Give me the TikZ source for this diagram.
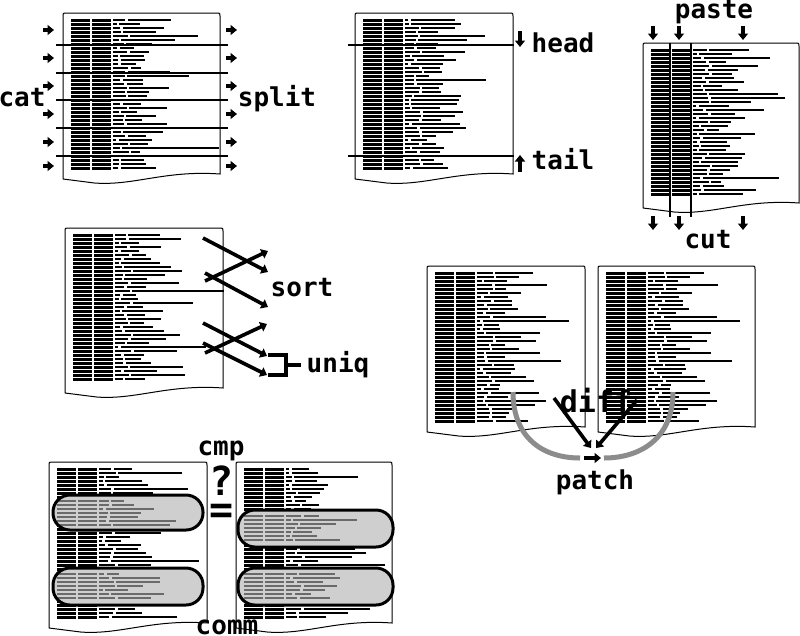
\documentclass[tikz,border=0pt]{standalone}
\usepackage{fontspec}
\setmonofont{DejaVu Sans Mono}
\usetikzlibrary{arrows.meta}
\definecolor{arcgray}{HTML}{8C8C8C}
\definecolor{ovalgray}{HTML}{CFCFCF}
\definecolor{ovaltext}{HTML}{6A6A6A}
\tikzset{
 lbl/.style={font=\ttfamily\bfseries\fontsize{26}{28}\selectfont, inner sep=0pt, anchor=base},
 biglbl/.style={font=\ttfamily\bfseries\fontsize{40}{42}\selectfont, inner sep=0pt, anchor=base},
 pageframe/.style={draw=black, line width=1pt, fill=white},
 cutline/.style={line width=1.4pt},
 blk/.style={line width=3.6pt, -{Triangle[length=6.5pt,width=10pt]}},
 grayarc/.style={line width=5pt, draw=arcgray},
 ovalst/.style={line width=3pt, draw=black, rounded corners=17pt},
}
% page outline: L, T, W, B
\newcommand\pageoutline[4]{%
 \draw[pageframe] (#1,#4) -- (#1,#2+3) .. controls (#1,#2) .. (#1+3,#2)
   -- (#1+#3-3,#2) .. controls (#1+#3,#2) .. (#1+#3,#2+3)
   -- (#1+#3,#4-5) .. controls (#1+0.65*#3,#4-9) and (#1+0.45*#3,#4+7) .. (#1+0.2*#3,#4+4)
   .. controls (#1+0.1*#3,#4+2) .. (#1,#4);
}
% rows of tiny listing: L, firstY, nrows, seed, colour, barheight
\newcommand\listrows[6]{%
 \pgfmathsetseed{#4}%
 \foreach \i in {0,...,#3}{%
  \pgfmathsetmacro\yy{#2+\i*4}%
  \pgfmathsetmacro\wa{3+rnd*14}%
  \pgfmathsetmacro\wb{8+rnd*rnd*80+rnd*12}%
  \fill[#5] (#1+8,\yy) rectangle ++(18.5,#6);
  \fill[#5] (#1+29,\yy) rectangle ++(19,#6);
  \fill[#5] (#1+50,\yy) rectangle ++(\wa,#6-0.4);
  \fill[#5] (#1+52.5+\wa,\yy) rectangle ++(\wb,#6-0.4);
 }%
}
% full page: L, T, W, B, seed
\newcommand\docpage[5]{%
 \pageoutline{#1}{#2}{#3}{#4}
 \pgfmathtruncatemacro\nr{(#4-#2-18)/4}%
 \listrows{#1}{#2+6}{\nr}{#5}{black}{2.8}
}
% oval highlight: pageL, x1, y1, x2, y2, seed
\newcommand\ovalbox[6]{%
 \fill[ovalgray, rounded corners=17pt] (#2,#3) rectangle (#4,#5);
 \begin{scope}
  \clip[rounded corners=17pt] (#2,#3) rectangle (#4,#5);
  \listrows{#1}{#3+5}{6}{#6}{ovaltext}{2.2}
 \end{scope}
 \draw[ovalst] (#2,#3) rectangle (#4,#5);
}
\begin{document}
\begin{tikzpicture}[x=1pt,y=-1pt]
\fill[white] (0,0) rectangle (800,635);
\useasboundingbox (0,0) rectangle (800,635);

% ---------- cat / split ----------
\docpage{63}{13}{157}{179}{11}
\foreach \y in {45,73,100,128,156}{\draw[cutline] (56,\y) -- (228,\y);}
\foreach \y [count=\k] in {30,58,86,114,142,166}{
 \coordinate (cl\k) at (43,\y); \coordinate (clt\k) at (54,\y);
 \coordinate (cr\k) at (226,\y); \coordinate (crt\k) at (237,\y);
 \draw[blk] (cl\k) -- (clt\k);
 \draw[blk] (cr\k) -- (crt\k);
}
\node[lbl] (cat) at (22,106) {cat};
\node[lbl] (split) at (277,106) {split};

% ---------- head / tail ----------
\docpage{355}{13}{158}{179}{23}
\draw[cutline] (348,45) -- (514,45);
\draw[cutline] (348,156) -- (514,156);
\coordinate (h1) at (520,31); \coordinate (h2) at (520,47);
\coordinate (t1) at (520,172); \coordinate (t2) at (520,155);
\draw[blk] (h1) -- (h2);
\draw[blk] (t1) -- (t2);
\node[lbl] (head) at (563,52) {head};
\node[lbl] (tail) at (563,169) {tail};

% ---------- paste / cut ----------
\docpage{643}{43}{156}{208}{37}
\draw[cutline] (670,43) -- (670,217);
\draw[cutline] (691,43) -- (691,217);
\foreach \x [count=\k] in {653,679,743}{
 \coordinate (pa\k) at (\x,26); \coordinate (pb\k) at (\x,40);
 \coordinate (ca\k) at (\x,216); \coordinate (cb\k) at (\x,230);
 \draw[blk] (pa\k) -- (pb\k);
 \draw[blk] (ca\k) -- (cb\k);
}
\node[lbl] (paste) at (714,18) {paste};
\node[lbl] (cut) at (708,248) {cut};

% ---------- sort / uniq ----------
\docpage{65}{228}{158}{393}{41}
\coordinate (s1a) at (203,238); \coordinate (s1b) at (268,272);
\coordinate (s2a) at (205,281); \coordinate (s2b) at (268,251);
\coordinate (s3a) at (205,273); \coordinate (s3b) at (268,307);
\draw[blk] (s1a) -- (s1b);
\draw[blk] (s2a) -- (s2b);
\draw[blk] (s3a) -- (s3b);
\coordinate (u1a) at (203,323); \coordinate (u1b) at (267,356);
\coordinate (u2a) at (205,353); \coordinate (u2b) at (267,324);
\coordinate (u3a) at (203,343); \coordinate (u3b) at (267,375);
\draw[blk] (u1a) -- (u1b);
\draw[blk] (u2a) -- (u2b);
\draw[blk] (u3a) -- (u3b);
\draw[line width=4pt] (268,355) -- (286,355) -- (286,375) -- (268,375);
\draw[line width=4pt] (286,365) -- (301,365);
\node[lbl] (sort) at (302,296) {sort};
\node[lbl] (uniq) at (338,372) {uniq};

% ---------- diff / patch ----------
\docpage{427}{266}{158}{432}{53}
\docpage{598}{266}{157}{432}{53}
\coordinate (gl1) at (513,392); \coordinate (gl2) at (580,458);
\coordinate (gr1) at (604,458); \coordinate (gr2) at (673,392);
\draw[grayarc] (gl1) .. controls (513,438) and (543,458) .. (gl2);
\draw[grayarc] (gr1) .. controls (641,458) and (673,438) .. (gr2);
\node[lbl, font=\ttfamily\bfseries\fontsize{30}{32}\selectfont] (diff) at (596,412) {diff};
\coordinate (d1a) at (554,398); \coordinate (d1b) at (591,448);
\coordinate (d2a) at (637,400); \coordinate (d2b) at (596,448);
\draw[blk] (d1a) -- (d1b);
\draw[blk] (d2a) -- (d2b);
\coordinate (pt1) at (584,458); \coordinate (pt2) at (601,458);
\draw[blk] (pt1) -- (pt2);
\node[lbl] (patch) at (595,489) {patch};

% ---------- cmp / comm ----------
\docpage{49}{462}{158}{628}{67}
\docpage{236}{462}{156}{628}{79}
\ovalbox{49}{53}{495}{203}{530}{5}
\ovalbox{49}{53}{568}{203}{605}{6}
\ovalbox{236}{238}{510}{393}{547}{7}
\ovalbox{236}{238}{568}{393}{605}{8}
\node[lbl] (cmp) at (221,455) {cmp};
\node[biglbl] (q) at (222,495) {?};
\node[biglbl] (eq) at (222,523) {=};
\node[lbl] (comm) at (227,634) {comm};
\end{tikzpicture}
\end{document}
